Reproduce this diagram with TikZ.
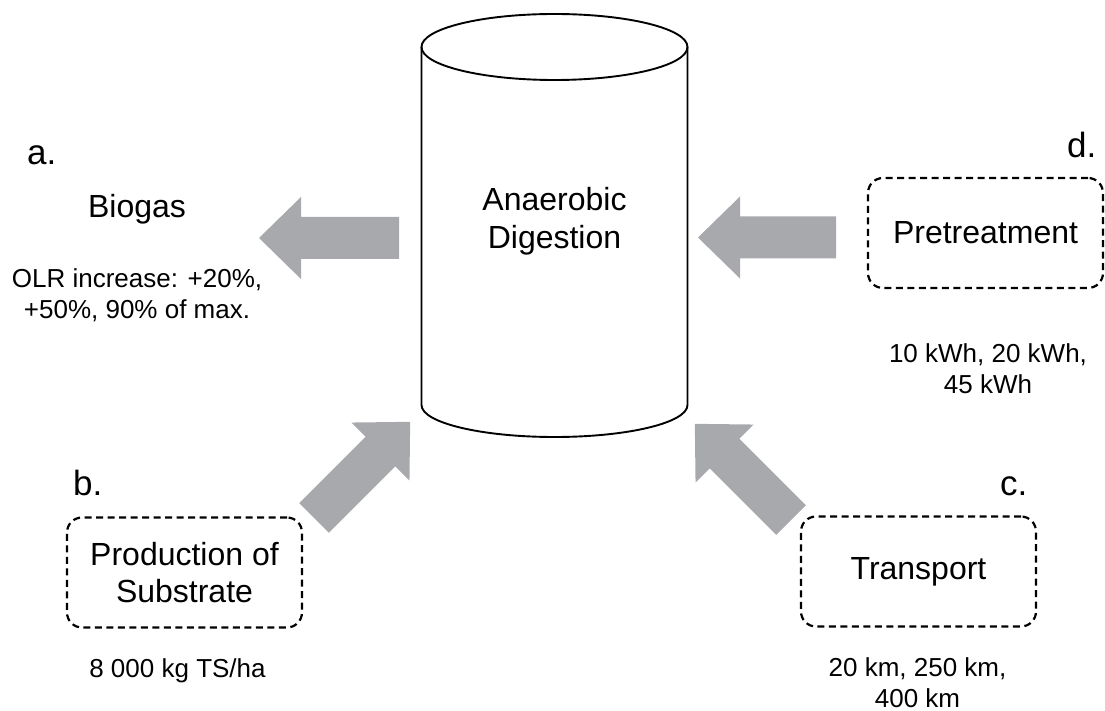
\documentclass[tikz,border=0pt]{standalone}
\usepackage{fontspec}
\setmainfont{Liberation Sans}
\begin{document}
\begin{tikzpicture}[x=1pt,y=-1pt,
  cyl/.style={line width=1.9pt, draw=black},
  dbox/.style={draw=black, line width=2.2pt, dash pattern=on 7pt off 4.5pt, rounded corners=15pt,
    minimum width=235pt, minimum height=110pt, align=center, inner sep=0pt,
    font=\fontsize{32}{37}\selectfont},
  title/.style={font=\fontsize{32}{38}\selectfont, align=center, inner sep=0pt},
  val/.style={font=\fontsize{26}{30.5}\selectfont, align=center, inner sep=0pt, anchor=base},
  lbl/.style={font=\fontsize{35}{40}\selectfont, inner sep=0pt, anchor=base west},
  garrow/.style={fill=arrowgray, draw=none}
]
\definecolor{arrowgray}{RGB}{167,169,172}
\useasboundingbox (0,0) rectangle (1105,711);

% cylinder
\draw[cyl] (421.5,47) -- (421.5,405) arc[start angle=180, end angle=0, x radius=133, y radius=32] -- (687.5,47);
\draw[cyl] (554.5,47) ellipse[x radius=133, y radius=33];
\node[title] (ad) at (554.5,221) {Anaerobic\\Digestion};

% block arrows: tail at origin, pointing along local x
\newcommand{\blockarrow}[4]{%
  \begin{scope}[shift={(#1,#2)}, rotate=#3]
    \fill[garrow] (0,-21) -- ({#4-42},-21) -- ({#4-42},-41) -- (#4,0) -- ({#4-42},41) -- ({#4-42},21) -- (0,21) -- cycle;
  \end{scope}}
\blockarrow{399}{238}{180}{140}
\blockarrow{836}{237.5}{180}{138}
\blockarrow{314}{518}{45}{136}
\blockarrow{791}{520}{135}{136}

% boxes
\node[dbox] (prod) at (184.5,572.5) {Production of\\Substrate};
\node[dbox] (trans) at (918.5,571.5) {Transport};
\node[dbox] (pret) at (985.5,233) {Pretreatment};

% labels
\node[lbl] (la) at (27,165) {a.};
\node[lbl] (lb) at (73,495) {b.};
\node[lbl] (lc) at (1000,495) {c.};
\node[lbl] (ld) at (1067,158) {d.};

% texts (anchor=base is the last line's baseline)
\node[title, anchor=base] (bio) at (137,218) {Biogas};
\node[val] (olr) at (137,318) {OLR increase: +20\%,\\+50\%, 90\% of max.};
\node[val] (kwh) at (988,393) {10 kWh, 20 kWh,\\45 kWh};
\node[val] (ts) at (177.5,677) {8 000 kg TS/ha};
\node[val] (km) at (917.5,707) {20 km, 250 km,\\400 km};
\end{tikzpicture}
\end{document}
